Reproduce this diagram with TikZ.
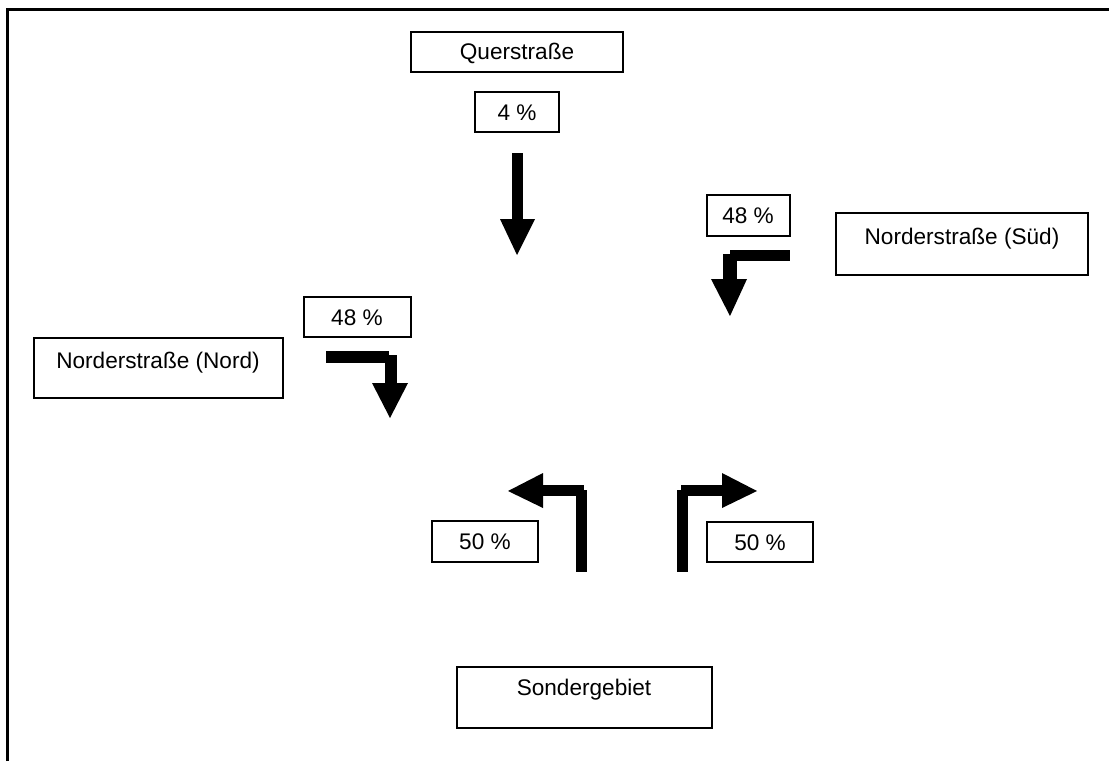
\documentclass[tikz,border=0pt]{standalone}
\usepackage{fontspec}
\setmainfont{Liberation Sans}
\begin{document}
\begin{tikzpicture}[x=1pt,y=-1pt,
  box/.style={draw=black,line width=2pt,fill=white,inner sep=0pt},
  txt/.style={inner sep=0pt,font=\fontsize{22.6}{26}\selectfont},
  blk/.style={fill=black,draw=none}]
\useasboundingbox (0,0) rectangle (1109,761);
% frame
\draw[line width=3pt] (7,761) -- (7,9) -- (1109,9);
% boxes
\node[box,minimum width=212pt,minimum height=40pt] (qbox) at (517,52) {};
\node[txt] (qtxt) at (517,53) {Querstraße};
\node[box,minimum width=84pt,minimum height=40pt] (p4) at (517,112) {};
\node[txt] (p4t) at (517,113) {4 \%};
\node[box,minimum width=252pt,minimum height=62pt] (sbox) at (962,244) {};
\node[txt] (stxt) at (962,239) {Norderstraße (Süd)};
\node[box,minimum width=83pt,minimum height=41pt] (p48r) at (748,215) {};
\node[txt] (p48rt) at (748,216) {48 \%};
\node[box,minimum width=107pt,minimum height=40pt] (p48l) at (357,317) {};
\node[txt] (p48lt) at (357,318) {48 \%};
\node[box,minimum width=249pt,minimum height=60pt] (nbox) at (158,368) {};
\node[txt] (ntxt) at (158,363) {Norderstraße (Nord)};
\node[box,minimum width=106pt,minimum height=41pt] (p50l) at (485,541) {};
\node[txt] (p50lt) at (485,542) {50 \%};
\node[box,minimum width=106pt,minimum height=40pt] (p50r) at (760,542) {};
\node[txt] (p50rt) at (760,543) {50 \%};
\node[box,minimum width=255pt,minimum height=61pt] (gbox) at (584,697) {};
\node[txt] (gtxt) at (584,690) {Sondergebiet};
% arrow from Querstrasse (straight down)
\fill[blk] (512,153) rectangle (523,220);
\fill[blk] (500,219) -- (535,219) -- (517,255) -- cycle;
% arrow from Norderstrasse Nord (right then down)
\fill[blk] (326,351) rectangle (389,363);
\fill[blk] (385,355) rectangle (397,384);
\fill[blk] (372,383) -- (408,383) -- (390,418) -- cycle;
% arrow from Norderstrasse Sued (left then down)
\fill[blk] (730,250) rectangle (790,261);
\fill[blk] (723,254) rectangle (737,280);
\fill[blk] (711,279) -- (747,279) -- (730,316) -- cycle;
% arrow from Sondergebiet (up then left)
\fill[blk] (576,490) rectangle (587,572);
\fill[blk] (542,485) rectangle (584,496);
\fill[blk] (543,473) -- (543,508) -- (508,491) -- cycle;
% arrow from Sondergebiet (up then right)
\fill[blk] (677,490) rectangle (688,572);
\fill[blk] (681,485) rectangle (723,496);
\fill[blk] (722,473) -- (722,508) -- (757,491) -- cycle;
\end{tikzpicture}
\end{document}
